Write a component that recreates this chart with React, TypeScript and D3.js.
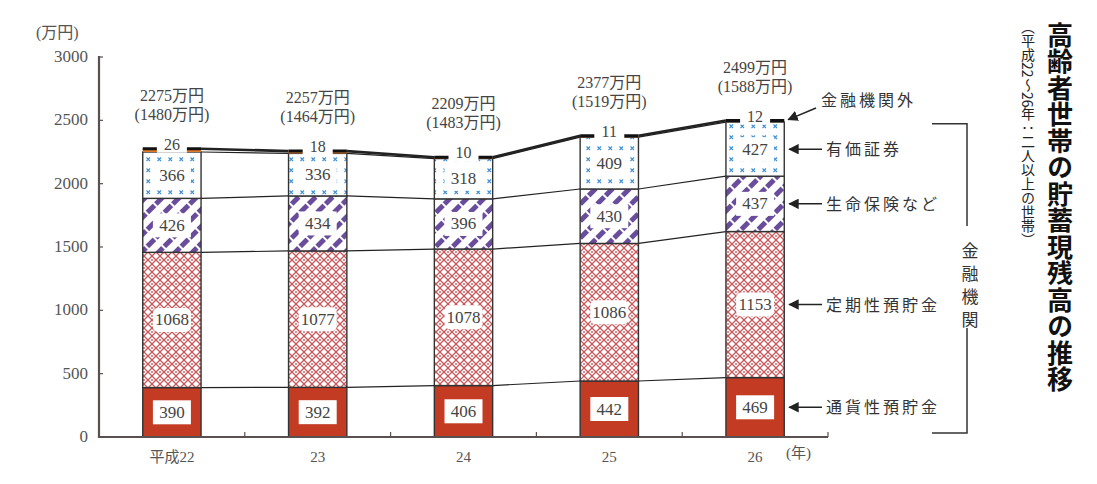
import React from 'react';
import * as d3 from 'd3';

const years = ['平成22', '23', '24', '25', '26'];
const seriesNames = ['通貨性預貯金', '定期性預貯金', '生命保険など', '有価証券', '金融機関外'];
const tsuka = [390, 392, 406, 442, 469];
const teiki = [1068, 1077, 1078, 1086, 1153];
const seimei = [426, 434, 396, 430, 437];
const yuka = [366, 336, 318, 409, 427];
const gaibu = [26, 18, 10, 11, 12];
const totals = [2275, 2257, 2209, 2377, 2499];
const medians = [1480, 1464, 1483, 1519, 1588];
const yTicks = [0, 500, 1000, 1500, 2000, 2500, 3000];

const title = '高齢者世帯の貯蓄現残高の推移';
const subParts = ['（平成', '22', '～', '26', '年：二人以上の世帯）'];
const bracketLabel = '金融機関';

const W = 1097;
const H = 484;
const SERIF = '"Liberation Serif", "DejaVu Serif", "Noto Sans CJK JP", serif';
const SANS = '"Noto Sans CJK JP", "DejaVu Sans", sans-serif';
const fills = ['#c23b22', 'url(#cross)', 'url(#stripe)', 'url(#dots)', '#e07b2a'];

export default function App() {
  const rows = years.map((yr, i) => ({
    year: yr,
    s0: tsuka[i],
    s1: teiki[i],
    s2: seimei[i],
    s3: yuka[i],
    s4: gaibu[i],
  }));
  const keys = ['s0', 's1', 's2', 's3', 's4'];
  const stacked = d3.stack<any>().keys(keys)(rows);

  const x = d3.scaleBand().domain(years).range([99, 828]).paddingInner(0.6).paddingOuter(0.3);
  const y = d3.scaleLinear().domain([0, 3000]).range([437, 57]);
  const bw = x.bandwidth();
  const top = stacked[4];

  const lastIdx = years.length - 1;
  const lastRight = (x(years[lastIdx]) || 0) + bw;

  const serif = { fontFamily: SERIF };
  const vertical = { writingMode: 'vertical-rl' as const };

  return (
    <svg width={W} height={H} style={{ position: 'absolute', left: 0, top: 0, background: '#fff' }}>
      <defs>
        <pattern id="cross" width="8" height="8" patternUnits="userSpaceOnUse">
          <rect width="8" height="8" fill="#fff" />
          <path d="M0,0 L8,8 M8,0 L0,8" stroke="#c9575a" strokeWidth="1.3" />
          <circle cx="0" cy="4" r="0.9" fill="#c9575a" />
          <circle cx="8" cy="4" r="0.9" fill="#c9575a" />
        </pattern>
        <pattern id="stripe" width="12" height="12" patternUnits="userSpaceOnUse" patternTransform="rotate(45)">
          <rect width="12" height="12" fill="#fff" />
          <rect x="0" y="0" width="5" height="10" fill="#6a4c9c" />
        </pattern>
        <pattern id="dots" width="11" height="11" patternUnits="userSpaceOnUse">
          <rect width="11" height="11" fill="#fff" />
          <path d="M3.5,3.5 L7,7 M7,3.5 L3.5,7" stroke="#3d8fd6" strokeWidth="1.1" />
        </pattern>
        <marker id="arr" viewBox="0 0 10 10" refX="9" refY="5" markerWidth="7" markerHeight="7" orient="auto">
          <path d="M0,0 L10,5 L0,10 z" fill="#222" />
        </marker>
      </defs>

      {/* y axis */}
      <text x={36} y={38} style={serif} fontSize={16} fill="#555">(万円)</text>
      {yTicks.map(t => (
        <g key={t}>
          <line x1={99} x2={103} y1={y(t)} y2={y(t)} stroke="#5a5050" strokeWidth={1.2} />
          <text x={88} y={y(t) + 5} textAnchor="end" style={serif} fontSize={17} fill="#555">{t}</text>
        </g>
      ))}

      {/* connector lines */}
      {stacked.map((s, k) =>
        years.slice(0, -1).map((yr, i) => (
          <line
            key={`c${k}-${i}`}
            x1={(x(yr) || 0) + bw}
            y1={y(s[i][1])}
            x2={x(years[i + 1]) || 0}
            y2={y(s[i + 1][1])}
            stroke="#222"
            strokeWidth={k === 4 ? 2.6 : 1.2}
          />
        ))
      )}

      {/* bars */}
      {stacked.map((s, k) =>
        s.map((d, i) => (
          <rect
            key={`b${k}-${i}`}
            x={x(years[i])}
            y={y(d[1])}
            width={bw}
            height={y(d[0]) - y(d[1])}
            fill={fills[k]}
            stroke="#333"
            strokeWidth={k === 4 ? 0 : 1.4}
          />
        ))
      )}
      {top.map((d, i) => (
        <line key={`t${i}`} x1={x(years[i])} x2={(x(years[i]) || 0) + bw} y1={y(d[1])} y2={y(d[1])} stroke="#111" strokeWidth={3} />
      ))}

      {/* segment labels */}
      {stacked.slice(0, 4).map((s, k) =>
        s.map((d, i) => {
          const cx = (x(years[i]) || 0) + bw / 2;
          const cy = (y(d[0]) + y(d[1])) / 2;
          const v = d[1] - d[0];
          return (
            <g key={`l${k}-${i}`}>
              <rect x={cx - 19} y={cy - 12} width={38} height={24} rx={k === 1 ? 5 : 0} fill="#fff" />
              <text x={cx} y={cy + 5.5} textAnchor="middle" style={serif} fontSize={17} fill="#444">{v}</text>
            </g>
          );
        })
      )}
      {top.map((d, i) => {
        const cx = (x(years[i]) || 0) + bw / 2;
        const ty = y(d[1]);
        return (
          <g key={`g${i}`}>
            <rect x={cx - 15} y={ty - 13} width={30} height={17} fill="#fff" />
            <text x={cx} y={ty + 1} textAnchor="middle" style={serif} fontSize={16} fill="#444">{gaibu[i]}</text>
          </g>
        );
      })}

      {/* totals */}
      {top.map((d, i) => {
        const cx = (x(years[i]) || 0) + bw / 2;
        const ty = y(d[1]);
        return (
          <g key={`tt${i}`} style={serif} fontSize={16} fill="#444" textAnchor="middle">
            <text x={cx} y={ty - 48}>{totals[i]}万円</text>
            <text x={cx} y={ty - 29}>({medians[i]}万円)</text>
          </g>
        );
      })}

      {/* axes */}
      <line x1={98} x2={828} y1={437} y2={437} stroke="#5a5050" strokeWidth={2} />
      <line x1={99} x2={99} y1={56} y2={438} stroke="#5a5050" strokeWidth={2.2} />
      {years.map((yr, i) => (
        <g key={`x${i}`}>
          {i > 0 && (
            <line x1={(x(yr) || 0) - x.step() * 0.3} x2={(x(yr) || 0) - x.step() * 0.3} y1={437} y2={432} stroke="#5a5050" strokeWidth={1.2} />
          )}
          <text x={(x(yr) || 0) + bw / 2} y={462} textAnchor="middle" style={serif} fontSize={15} fill="#555">{yr}</text>
        </g>
      ))}
      <line x1={828} x2={828} y1={437} y2={432} stroke="#5a5050" strokeWidth={1.2} />
      <text x={786} y={458} style={serif} fontSize={15} fill="#555">(年)</text>

      {/* annotations for the last bar */}
      {stacked.slice(0, 4).map((s, k) => {
        const d = s[lastIdx];
        const cy = (y(d[0]) + y(d[1])) / 2;
        return (
          <g key={`a${k}`}>
            <line x1={822} x2={lastRight + 5} y1={cy} y2={cy} stroke="#222" strokeWidth={1.5} markerEnd="url(#arr)" />
            <text x={826} y={cy + 6} style={serif} fontSize={16} letterSpacing={3} fill="#333">{seriesNames[k]}</text>
          </g>
        );
      })}
      <line x1={816} y1={108} x2={lastRight + 4} y2={y(top[lastIdx][1]) - 1} stroke="#222" strokeWidth={1.5} markerEnd="url(#arr)" />
      <text x={821} y={106} style={serif} fontSize={16} letterSpacing={3} fill="#333">{seriesNames[4]}</text>

      {/* 金融機関 bracket */}
      <path d={`M932,${y(2488) + 2} H967 V226`} fill="none" stroke="#333" strokeWidth={1.5} />
      <path d={`M967,328 V${y(0) - 4} H932`} fill="none" stroke="#333" strokeWidth={1.5} />
      <text x={968} y={242} style={{ ...serif, ...vertical }} fontSize={17} letterSpacing={6} fill="#333">{bracketLabel}</text>

      {/* vertical title */}
      <text x={1060} y={22} style={{ fontFamily: SANS, ...vertical }} fontWeight={700} fontSize={26} letterSpacing={0.5} fill="#111">{title}</text>
      <text x={1028} y={20} style={{ fontFamily: SANS, ...vertical }} fontSize={14} letterSpacing={0} fill="#222">
        {subParts.map((p, i) => (
          <tspan key={i} style={/\d/.test(p) ? { textCombineUpright: 'all' } as any : undefined}>{p}</tspan>
        ))}
      </text>
    </svg>
  );
}
